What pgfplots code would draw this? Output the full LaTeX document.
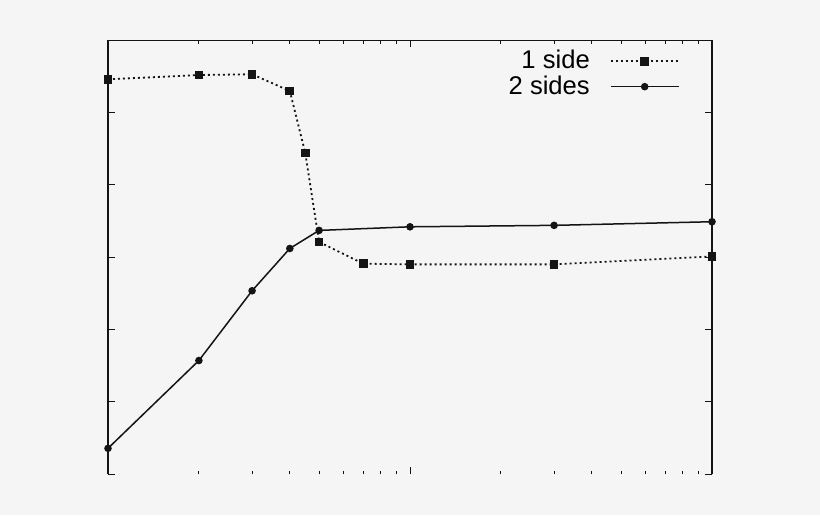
\documentclass[border=0pt]{standalone}
\usepackage{fontspec}
\setmainfont{Liberation Sans}
\usepackage{pgfplots}
\pgfplotsset{compat=1.18}
\definecolor{bg}{RGB}{245,245,245}
\definecolor{ink}{RGB}{20,20,20}

\pgfplotstableread{
x y
1 5.46
2 5.52
3 5.53
4 5.30
4.5 4.44
5 3.21
7 2.91
10 2.90
30 2.90
100 3.01
}\oneside

\pgfplotstableread{
x y
1 0.355
2 1.57
3 2.535
4 3.12
5 3.37
10 3.42
30 3.44
100 3.49
}\twosides

\begin{document}
\begin{tikzpicture}
\fill[bg] (0,0) rectangle (410pt,257.5pt);
\begin{axis}[
    at={(54pt,20.5pt)}, anchor=south west,
    scale only axis,
    width=302pt, height=216.85pt,
    xmode=log, xmin=1, xmax=100,
    ymin=0, ymax=6, ytick={0,1,...,6},
    xticklabel=\empty, yticklabel=\empty,
    axis line style={draw=none},
    tick style={ink, line width=0.45pt},
    major tick length=3.5pt, minor tick length=1.6pt,
    clip=false,
    legend cell align=right,
    legend plot pos=right,
    legend style={draw=none, fill=none, at={(rel axis cs:0.947,0.987)}, anchor=north east,
        font=\fontsize{12.8}{13}\selectfont, row sep=-2pt, column sep=8pt, inner sep=0pt},
    legend image code/.code={\draw[mark repeat=2,mark phase=2,#1] plot coordinates {(0pt,0pt)(17pt,0pt)(34pt,0pt)};},
]
\draw[ink, line width=0.6pt] (rel axis cs:0,0) -- (rel axis cs:0,1) -- (rel axis cs:1,1) -- (rel axis cs:1,0);
\addplot[ink, line width=0.9pt, dash pattern=on 1pt off 1.5pt, mark=square*, mark size=1.75pt, mark options={solid}] table[x=x, y=y] {\oneside};
\addlegendentry{1 side}
\addplot[ink, line width=0.75pt, mark=*, mark size=1.5pt] table[x=x, y=y] {\twosides};
\addlegendentry{2 sides}
\end{axis}
\end{tikzpicture}
\end{document}
